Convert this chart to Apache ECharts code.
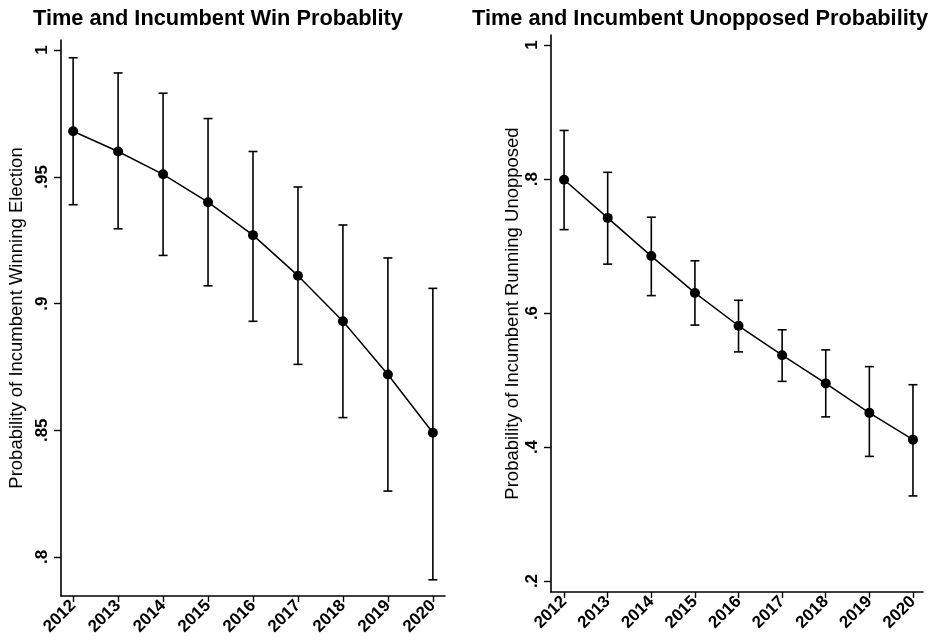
<!DOCTYPE html>
<html>
<head>
<meta charset="utf-8">
<script src="https://cdn.jsdelivr.net/npm/echarts@6/dist/echarts.min.js"></script>
<style>
  html, body { margin: 0; padding: 0; background: #fff; }
  #chart { width: 941px; height: 644px; }
</style>
</head>
<body>
<div id="chart"></div>
<script>
const years = [2012, 2013, 2014, 2015, 2016, 2017, 2018, 2019, 2020];

const winMean = [0.968, 0.960, 0.951, 0.940, 0.927, 0.911, 0.893, 0.872, 0.849];
const winLow = [0.939, 0.9295, 0.919, 0.907, 0.893, 0.876, 0.855, 0.826, 0.791];
const winHigh = [0.997, 0.991, 0.983, 0.973, 0.960, 0.946, 0.931, 0.918, 0.906];

const unoppMean = [0.799, 0.742, 0.685, 0.630, 0.581, 0.537, 0.495, 0.451, 0.411];
const unoppLow = [0.7245, 0.673, 0.626, 0.582, 0.542, 0.498, 0.445, 0.386, 0.327];
const unoppHigh = [0.8725, 0.810, 0.743, 0.678, 0.619, 0.575, 0.545, 0.520, 0.493];

const winTicks = [0.8, 0.85, 0.9, 0.95, 1];
const unoppTicks = [0.2, 0.4, 0.6, 0.8, 1];

const font = "Liberation Sans, Arial, sans-serif";

// error bar with small caps
function errorBar(params, api) {
  const x = api.value(0);
  const lo = api.coord([x, api.value(1)]);
  const hi = api.coord([x, api.value(2)]);
  const w = 4.5;
  const style = { stroke: "#000", lineWidth: 1.6 };
  return {
    type: "group",
    children: [
      { type: "line", shape: { x1: lo[0], y1: lo[1], x2: hi[0], y2: hi[1] }, style },
      { type: "line", shape: { x1: lo[0] - w, y1: lo[1], x2: lo[0] + w, y2: lo[1] }, style },
      { type: "line", shape: { x1: hi[0] - w, y1: hi[1], x2: hi[0] + w, y2: hi[1] }, style },
    ],
  };
}

function xAxisFor(gridIndex, min, max) {
  return {
    type: "value",
    gridIndex: gridIndex,
    min: min,
    max: max,
    splitLine: { show: false },
    axisLine: { lineStyle: { color: "#000", width: 1.6 } },
    axisTick: { customValues: years, length: 6, lineStyle: { color: "#000", width: 1.4 } },
    axisLabel: {
      customValues: years,
      rotate: 45,
      margin: 7,
      color: "#000",
      fontFamily: font,
      fontWeight: "bold",
      fontSize: 17,
      formatter: (v) => String(v),
    },
  };
}

function yAxisFor(gridIndex, min, max, ticks, name, nameGap) {
  return {
    type: "value",
    gridIndex: gridIndex,
    min: min,
    max: max,
    name: name,
    nameLocation: "middle",
    nameGap: nameGap,
    nameTextStyle: { color: "#000", fontFamily: font, fontSize: 18.5 },
    splitLine: { show: false },
    axisLine: { show: true, lineStyle: { color: "#000", width: 1.6 } },
    axisTick: { show: true, customValues: ticks, length: 7, lineStyle: { color: "#000", width: 1.4 } },
    axisLabel: {
      customValues: ticks,
      rotate: 90,
      margin: 10,
      color: "#000",
      fontFamily: font,
      fontWeight: "bold",
      fontSize: 17,
      formatter: (v) => String(Number(v.toFixed(2))).replace(/^0/, ""),
    },
  };
}

const chart = echarts.init(document.getElementById("chart"));

chart.setOption({
  animation: false,
  backgroundColor: "#fff",
  title: [
    {
      text: "Time and Incumbent Win Probablity",
      left: 33,
      top: 8,
      padding: 0,
      textStyle: { color: "#000", fontFamily: font, fontSize: 21.8, fontWeight: "bold" },
    },
    {
      text: "Time and Incumbent Unopposed Probability",
      left: 472,
      top: 8,
      padding: 0,
      textStyle: { color: "#000", fontFamily: font, fontSize: 21.8, fontWeight: "bold" },
    },
  ],
  grid: [
    { left: 61, top: 40, right: 496, bottom: 48, outerBoundsMode: "none" },
    { left: 551, top: 35, right: 18, bottom: 52, outerBoundsMode: "none" },
  ],
  xAxis: [xAxisFor(0, 2011.73, 2020.27), xAxisFor(1, 2011.7, 2020.23)],
  yAxis: [
    yAxisFor(0, 0.7846, 1.004, winTicks, "Probability of Incumbent Winning Election", 35),
    yAxisFor(1, 0.1836, 1.015, unoppTicks, "Probability of Incumbent Running Unopposed", 29),
  ],
  series: [
    {
      type: "custom",
      xAxisIndex: 0,
      yAxisIndex: 0,
      renderItem: errorBar,
      data: years.map((y, i) => [y, winLow[i], winHigh[i]]),
      z: 2,
    },
    {
      type: "line",
      xAxisIndex: 0,
      yAxisIndex: 0,
      data: years.map((y, i) => [y, winMean[i]]),
      symbol: "circle",
      symbolSize: 10,
      itemStyle: { color: "#000" },
      lineStyle: { color: "#000", width: 1.5 },
      z: 3,
    },
    {
      type: "custom",
      xAxisIndex: 1,
      yAxisIndex: 1,
      renderItem: errorBar,
      data: years.map((y, i) => [y, unoppLow[i], unoppHigh[i]]),
      z: 2,
    },
    {
      type: "line",
      xAxisIndex: 1,
      yAxisIndex: 1,
      data: years.map((y, i) => [y, unoppMean[i]]),
      symbol: "circle",
      symbolSize: 10,
      itemStyle: { color: "#000" },
      lineStyle: { color: "#000", width: 1.5 },
      z: 3,
    },
  ],
});

window.addEventListener("resize", () => {
  chart.resize();
});
</script>
</body>
</html>
